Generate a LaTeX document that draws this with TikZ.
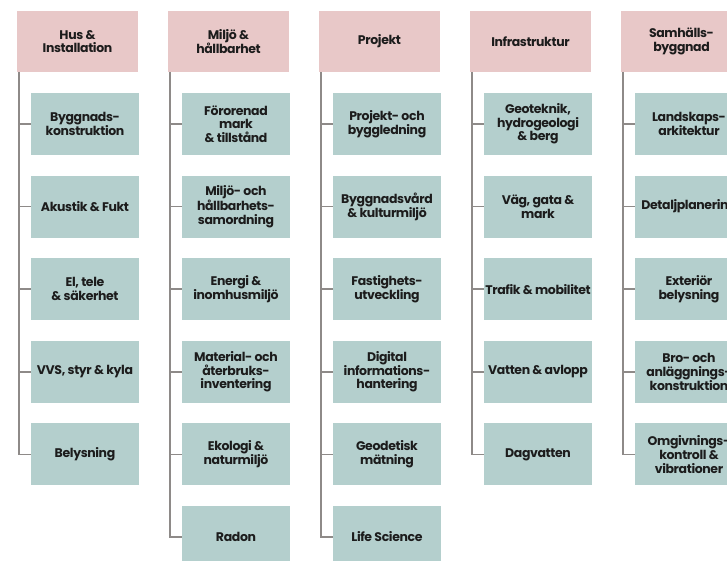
\documentclass[tikz,border=0pt]{standalone}
\usepackage{fontspec}
\setmainfont{Poppins}[LetterSpace=-3]
\usetikzlibrary{calc}
\definecolor{hdrbg}{HTML}{E8C8C8}
\definecolor{subbg}{HTML}{B4CFCD}
\definecolor{ink}{HTML}{1C1C1C}
\definecolor{branch}{HTML}{8E8A88}
\tikzset{
  hdr/.style={fill=hdrbg, minimum width=121pt, minimum height=61pt, inner sep=0pt,
    align=center, text=ink, font=\fontsize{12.5}{13.7}\selectfont\bfseries},
  area/.style={fill=subbg, minimum width=108pt, minimum height=62pt, inner sep=0pt,
    align=center, text=ink, font=\fontsize{12.5}{13.7}\selectfont\bfseries},
  tree/.style={draw=branch, line width=1.8pt},
}
\begin{document}
\begin{tikzpicture}[x=1pt,y=-1pt]
\useasboundingbox (0,0) rectangle (727,561);
\clip (0,0) rectangle (727,561);
% Hus & Installation
\node[hdr] (h1) at (77.5,41.5) {Hus \&\\Installation};
\foreach \t [count=\k] in {{Byggnads-\\konstruktion},{Akustik \& Fukt},{El, tele\\\& säkerhet},{VVS, styr \& kyla},{Belysning}}{
  \node[area] (a\k) at (85,{124+82.6*(\k-1)}) {\t};
  \draw[tree] ($(h1.south west)+(2,0)$) |- (a\k.west);
}
% Miljö & hållbarhet
\node[hdr] (h2) at (228.5,41.5) {Miljö \&\\hållbarhet};
\foreach \t [count=\k] in {{Förorenad\\mark\\\& tillstånd},{Miljö- och\\hållbarhets-\\samordning},{Energi \&\\inomhusmiljö},{Material- och\\återbruks-\\inventering},{Ekologi \&\\naturmiljö},{Radon}}{
  \node[area] (b\k) at (236,{124+82.6*(\k-1)}) {\t};
  \draw[tree] ($(h2.south west)+(2,0)$) |- (b\k.west);
}
% Projekt
\node[hdr] (h3) at (379.5,41.5) {Projekt};
\foreach \t [count=\k] in {{Projekt- och\\byggledning},{Byggnadsvård\\\& kulturmiljö},{Fastighets-\\utveckling},{Digital\\informations-\\hantering},{Geodetisk\\mätning},{Life Science}}{
  \node[area] (c\k) at (387,{124+82.6*(\k-1)}) {\t};
  \draw[tree] ($(h3.south west)+(2,0)$) |- (c\k.west);
}
% Infrastruktur
\node[hdr] (h4) at (530.5,41.5) {Infrastruktur};
\foreach \t [count=\k] in {{Geoteknik,\\hydrogeologi\\\& berg},{Väg, gata \&\\mark},{Trafik \& mobilitet},{Vatten \& avlopp},{Dagvatten}}{
  \node[area] (d\k) at (538,{124+82.6*(\k-1)}) {\t};
  \draw[tree] ($(h4.south west)+(2,0)$) |- (d\k.west);
}
% Samhällsbyggnad
\node[hdr] (h5) at (681.5,41.5) {Samhälls-\\byggnad};
\foreach \t [count=\k] in {{Landskaps-\\arkitektur},{Detaljplanering},{Exteriör\\belysning},{Bro- och\\anläggnings-\\konstruktion},{Omgivnings-\\kontroll \&\\vibrationer}}{
  \node[area] (e\k) at (689,{124+82.6*(\k-1)}) {\t};
  \draw[tree] ($(h5.south west)+(2,0)$) |- (e\k.west);
}
\end{tikzpicture}
\end{document}
